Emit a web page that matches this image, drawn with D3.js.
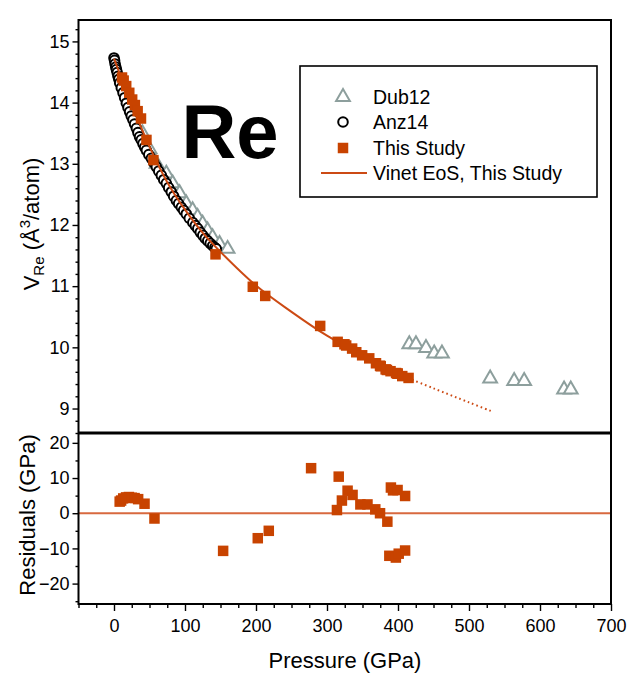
<!DOCTYPE html>
<html>
<head>
<meta charset="utf-8">
<script src="https://cdn.jsdelivr.net/npm/d3@7"></script>
<style>
  html, body { margin: 0; padding: 0; background: #fff; }
  svg { display: block; font-family: "Liberation Sans", Arial, sans-serif; }
</style>
</head>
<body>
<svg id="chart" width="630" height="673"></svg>
<script>
// ---- Data ---------------------------------------------------------------
// Dubrovinsky et al. 2012 (P in GPa, V in Å^3/atom)
const dubP = [40, 50, 60, 73.7, 82.6, 92.4, 101.8, 110.7, 117.7, 124.8, 131.8, 138.8, 148.7, 160,
              415.9, 425.3, 439.4, 451, 461.9, 529.8, 563.6, 577.7, 633.9, 643.3];
const dubV = [13.5, 13.24, 13.0, 12.84, 12.68, 12.52, 12.35, 12.24, 12.13, 12.02, 11.91, 11.80, 11.69, 11.61,
              10.05, 10.05, 9.99, 9.90, 9.90, 9.49, 9.45, 9.45, 9.31, 9.31];

// Anzellini et al. 2014
const anzP = [0, 0.8, 1.6, 2.5, 3.4, 4.5, 5.6, 6.8, 8, 10.3, 12.7, 15, 17.4, 19.7, 22, 24.3, 26.7, 29,
              31.5, 33.7, 36, 38.4, 40.8, 43.2, 45.6, 49, 52.6, 56, 59.6, 63, 66.7, 70, 73.7, 77, 80.7,
              84, 87.8, 91, 94.8, 98, 101.8, 106, 111, 114.5, 118, 121.5, 125, 128.5, 132, 135.5, 139, 142, 144];
const anzV = [14.73, 14.69, 14.63, 14.58, 14.54, 14.49, 14.43, 14.38, 14.32, 14.24, 14.16, 14.08, 13.99,
              13.92, 13.85, 13.78, 13.72, 13.65, 13.58, 13.51, 13.44, 13.39, 13.33, 13.27, 13.22, 13.15,
              13.09, 13.02, 12.95, 12.88, 12.81, 12.74, 12.68, 12.61, 12.54, 12.47, 12.40, 12.35, 12.29,
              12.24, 12.18, 12.11, 12.04, 11.99, 11.94, 11.88, 11.83, 11.78, 11.74, 11.70, 11.66, 11.63, 11.61];

// This study: compression data
const studyP = [11.3, 13.6, 17.2, 21.5, 25.6, 29.4, 33.3, 38, 45.7, 55.5, 143, 195.5, 213, 290.4, 315,
                324.6, 327, 335.4, 341.2, 349.5, 359.5, 369, 374.7, 375.7, 382.6, 384.4, 389.5, 397.3,
                399.4, 399.5, 406, 414.9];
const studyV = [14.41, 14.36, 14.27, 14.16, 14.05, 13.96, 13.86, 13.74, 13.39, 13.06, 11.52, 10.99, 10.84,
                10.35, 10.09, 10.05, 10.03, 9.98, 9.92, 9.87, 9.82, 9.74, 9.70, 9.69, 9.64, 9.63, 9.61,
                9.58, 9.57, 9.57, 9.53, 9.50];

// Vinet EoS fit (solid over the data range, dotted extrapolation)
const fitP = [0, 25, 50, 75, 100, 125, 150, 200, 250, 300, 350, 400, 420];
const fitV = [14.72, 13.97, 13.28, 12.70, 12.25, 11.87, 11.56, 11.01, 10.58, 10.19, 9.87, 9.57, 9.47];
const extP = [420, 450, 500, 533];
const extV = [9.47, 9.33, 9.10, 8.95];

// Fit residuals (GPa)
const residP = [8, 10, 13, 17, 21, 25, 29, 34, 43, 57, 153.7, 202.5, 218, 277.6, 314, 316.5, 321, 329,
                336, 347, 357, 368, 374.7, 385, 387.8, 390, 393, 397, 399.4, 401, 410, 410];
const residR = [3.3, 3.6, 4.2, 4.5, 4.6, 4.4, 4.3, 4.0, 2.7, -1.5, -10.7, -7.1, -5.0, 12.8, 0.9, 10.4, 3.6,
                6.4, 5.2, 2.5, 2.5, 1.1, 0, -2.4, -12.1, 7.3, 6.5, -12.6, 6.6, -11.5, -10.6, 4.9];

const xTicks = [0, 100, 200, 300, 400, 500, 600, 700];
const vTicks = [9, 10, 11, 12, 13, 14, 15];
const rTicks = [-20, -10, 0, 10, 20];

const legendLabels = ["Dub12", "Anz14", "This Study", "Vinet EoS, This Study"];

// ---- Layout ---------------------------------------------------------------
const ORANGE = "#c84300";
const LINE = "#cc4a14";
const ZERO = "#d8693f";
const GREY = "#8d9f9d";

const svg = d3.select("#chart");
const left = 78.5, right = 611;
const topY0 = 20, split = 433, botY1 = 604;

const x = d3.scaleLinear().domain([-50, 700]).range([left, right]);
const yV = d3.scaleLinear().domain([8.6, 15.35]).range([split, topY0]);
const yR = d3.scaleLinear().domain([-25.8, 22.8]).range([botY1, split]);

// ---- Axes ---------------------------------------------------------------
function styleAxis(g) {
  g.selectAll("path.domain").remove();
  g.selectAll(".tick line").attr("stroke", "#000").attr("stroke-width", 1.4);
  g.selectAll(".tick text").attr("fill", "#000").style("font-size", "18px")
    .style("font-family", "'Liberation Sans', Arial, sans-serif");
}

// minor ticks
const minorX = d3.range(-50, 701, 25).filter(v => v % 100 !== 0);
svg.append("g").attr("transform", `translate(0,${botY1})`)
  .call(d3.axisBottom(x).tickValues(minorX).tickSize(4).tickFormat(""))
  .call(styleAxis);
svg.append("g").attr("transform", `translate(0,${botY1})`)
  .call(d3.axisBottom(x).tickValues(xTicks).tickSize(7).tickPadding(8).tickFormat(d3.format("d")))
  .call(styleAxis);

const minorV = d3.range(8.6, 15.35, 0.2).filter(v => Math.abs(v - Math.round(v)) > 0.01);
svg.append("g").attr("transform", `translate(${left},0)`)
  .call(d3.axisLeft(yV).tickValues(minorV).tickSize(3).tickFormat(""))
  .call(styleAxis);
svg.append("g").attr("transform", `translate(${left},0)`)
  .call(d3.axisLeft(yV).tickValues(vTicks).tickSize(6).tickPadding(3).tickFormat(d3.format("d")))
  .call(styleAxis);

const minorR = [-25, -15, -5, 5, 15];
svg.append("g").attr("transform", `translate(${left},0)`)
  .call(d3.axisLeft(yR).tickValues(minorR).tickSize(3).tickFormat(""))
  .call(styleAxis);
svg.append("g").attr("transform", `translate(${left},0)`)
  .call(d3.axisLeft(yR).tickValues(rTicks).tickSize(6).tickPadding(3).tickFormat(d3.format("d")))
  .call(styleAxis);

// ---- Upper panel marks ---------------------------------------------------
const upper = svg.append("g");

const tri = d3.symbol().type(d3.symbolTriangle).size(82);
upper.selectAll("path.dub").data(dubP.map((p, i) => [p, dubV[i]])).join("path")
  .attr("class", "dub")
  .attr("transform", d => `translate(${x(d[0])},${yV(d[1])})`)
  .attr("d", tri)
  .attr("fill", "#fff").attr("stroke", GREY).attr("stroke-width", 2);

upper.selectAll("circle.anz").data(anzP.map((p, i) => [p, anzV[i]])).join("circle")
  .attr("class", "anz")
  .attr("cx", d => x(d[0])).attr("cy", d => yV(d[1])).attr("r", 4.8)
  .attr("fill", "#fff").attr("stroke", "#000").attr("stroke-width", 2);

const fitLine = d3.line().x(d => x(d[0])).y(d => yV(d[1])).curve(d3.curveCatmullRom);
upper.append("path")
  .datum(fitP.map((p, i) => [p, fitV[i]]))
  .attr("d", fitLine).attr("fill", "none").attr("stroke", LINE).attr("stroke-width", 2);
upper.append("path")
  .datum(extP.map((p, i) => [p, extV[i]]))
  .attr("d", fitLine).attr("fill", "none").attr("stroke", LINE).attr("stroke-width", 2)
  .attr("stroke-dasharray", "1.6,3");

const sq = 10.5;
upper.selectAll("rect.study").data(studyP.map((p, i) => [p, studyV[i]])).join("rect")
  .attr("class", "study")
  .attr("x", d => x(d[0]) - sq / 2).attr("y", d => yV(d[1]) - sq / 2)
  .attr("width", sq).attr("height", sq).attr("fill", ORANGE);

// Element label
svg.append("text").attr("x", 230).attr("y", 158).attr("text-anchor", "middle")
  .style("font-size", "76px").style("font-weight", "bold").text("Re");

// Legend
const lg = svg.append("g");
lg.append("rect").attr("x", 300).attr("y", 66).attr("width", 297).attr("height", 131)
  .attr("fill", "#fff").attr("stroke", "#000").attr("stroke-width", 1.6);
const rowY = [97, 122, 148, 173];
lg.append("path").attr("transform", `translate(343,${rowY[0]})`).attr("d", tri)
  .attr("fill", "#fff").attr("stroke", GREY).attr("stroke-width", 2);
lg.append("circle").attr("cx", 343).attr("cy", rowY[1]).attr("r", 4.8)
  .attr("fill", "#fff").attr("stroke", "#000").attr("stroke-width", 2);
lg.append("rect").attr("x", 343 - sq / 2).attr("y", rowY[2] - sq / 2).attr("width", sq).attr("height", sq)
  .attr("fill", ORANGE);
lg.append("line").attr("x1", 321).attr("x2", 367).attr("y1", rowY[3]).attr("y2", rowY[3])
  .attr("stroke", LINE).attr("stroke-width", 2);
lg.selectAll("text.lab").data(legendLabels).join("text").attr("class", "lab")
  .attr("x", 373).attr("y", (d, i) => rowY[i] + 7).style("font-size", "19.5px").text(d => d);

// ---- Lower panel marks ---------------------------------------------------
svg.append("line").attr("x1", left).attr("x2", right).attr("y1", yR(0)).attr("y2", yR(0))
  .attr("stroke", ZERO).attr("stroke-width", 2);
svg.selectAll("rect.resid").data(residP.map((p, i) => [p, residR[i]])).join("rect")
  .attr("class", "resid")
  .attr("x", d => x(d[0]) - sq / 2).attr("y", d => yR(d[1]) - sq / 2)
  .attr("width", sq).attr("height", sq).attr("fill", ORANGE);

// ---- Frames ---------------------------------------------------------------
svg.append("rect").attr("x", left).attr("y", topY0).attr("width", right - left).attr("height", botY1 - topY0)
  .attr("fill", "none").attr("stroke", "#000").attr("stroke-width", 2);
svg.append("line").attr("x1", left).attr("x2", right).attr("y1", split).attr("y2", split)
  .attr("stroke", "#000").attr("stroke-width", 3);

// ---- Axis titles ----------------------------------------------------------
const yt = svg.append("text").attr("transform", "translate(39,224) rotate(-90)")
  .attr("text-anchor", "middle").style("font-size", "22px");
yt.append("tspan").text("V");
yt.append("tspan").attr("dy", 5).style("font-size", "15px").text("Re");
yt.append("tspan").attr("dy", -5).text(" (Å");
yt.append("tspan").attr("dy", -9).style("font-size", "15px").text("3");
yt.append("tspan").attr("dy", 9).text("/atom)");

svg.append("text").attr("transform", "translate(35,515) rotate(-90)")
  .attr("text-anchor", "middle").style("font-size", "22px").text("Residuals (GPa)");

svg.append("text").attr("x", 345).attr("y", 668).attr("text-anchor", "middle")
  .style("font-size", "22px").text("Pressure (GPa)");
</script>
</body>
</html>
